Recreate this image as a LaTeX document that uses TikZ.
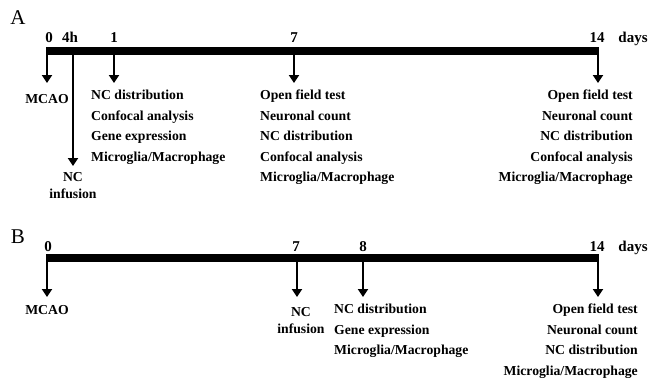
\documentclass[tikz,border=0pt]{standalone}
\usepackage{fontspec}
\setmainfont{Liberation Serif}
\usetikzlibrary{arrows.meta,positioning}

\begin{document}
\begin{tikzpicture}[
  x=1pt,y=-1pt,
  panel/.style={font=\fontsize{21}{21}\selectfont,inner sep=0pt},
  tick/.style={font=\fontsize{15}{15}\selectfont\bfseries,inner sep=0pt,anchor=base},
  bar/.style={line width=8.5pt},
  arrow/.style={-{Triangle[length=8pt,width=10pt]},line width=2pt},
  txt/.style={font=\fontsize{13.7}{20.5}\selectfont\bfseries,inner sep=0pt},
  lstL/.style={txt,align=left},
  lstR/.style={txt,align=right},
  lblC/.style={txt,align=center,font=\fontsize{13.7}{17}\selectfont\bfseries}
]
\useasboundingbox (0,0) rectangle (649,381);

% panel A
\node[panel] (pA) at (18,18) {A};
\coordinate (aL) at (46,51);
\coordinate (aR) at (599,51);
\draw[bar] (aL) -- (aR);
\foreach \t/\x in {0/49,4h/70,1/114,7/294,14/597}
  \node[tick] (tA\t) at (\x,42) {\t};
\node[tick] (dA) at (633,42) {days};
\foreach \n/\x/\e in {0/47/83,4h/73/166,1/114/83,7/294/83,14/598/83}{
  \coordinate (A\n) at (\x,51);
  \coordinate (A\n e) at (\x,\e);
  \draw[arrow] (A\n) -- (A\n e);
}
\node[txt,below=11pt of A0e] (mcaoA) {MCAO};
\node[lblC,below=6pt of A4he] (infA) {NC\\infusion};
\node[lstL,below right=7pt and -23pt of A1e] (day1)
  {NC distribution\\Confocal analysis\\Gene expression\\Microglia/Macrophage};
\node[lstL,below right=7pt and -34pt of A7e] (day7A)
  {Open field test\\Neuronal count\\NC distribution\\Confocal analysis\\Microglia/Macrophage};
\node[lstR,below left=7pt and -35pt of A14e] (day14A)
  {Open field test\\Neuronal count\\NC distribution\\Confocal analysis\\Microglia/Macrophage};

% panel B
\node[panel] (pB) at (18,237) {B};
\coordinate (bL) at (46,258);
\coordinate (bR) at (599,258);
\draw[bar] (bL) -- (bR);
\foreach \t/\x in {0/48,7/296,8/363,14/597}
  \node[tick] (tB\t) at (\x,251) {\t};
\node[tick] (dB) at (633,251) {days};
\foreach \n/\x in {0/47,7/297,8/363,14/598}{
  \coordinate (B\n) at (\x,258);
  \coordinate (B\n e) at (\x,297);
  \draw[arrow] (B\n) -- (B\n e);
}
\node[txt,below=8pt of B0e] (mcaoB) {MCAO};
\node[lblC,below=10pt of B7e,xshift=4pt] (infB) {NC\\infusion};
\node[lstL,below right=7pt and -29pt of B8e] (day8)
  {NC distribution\\Gene expression\\Microglia/Macrophage};
\node[lstR,below left=7pt and -40pt of B14e] (day14B)
  {Open field test\\Neuronal count\\NC distribution\\Microglia/Macrophage};
\end{tikzpicture}
\end{document}
